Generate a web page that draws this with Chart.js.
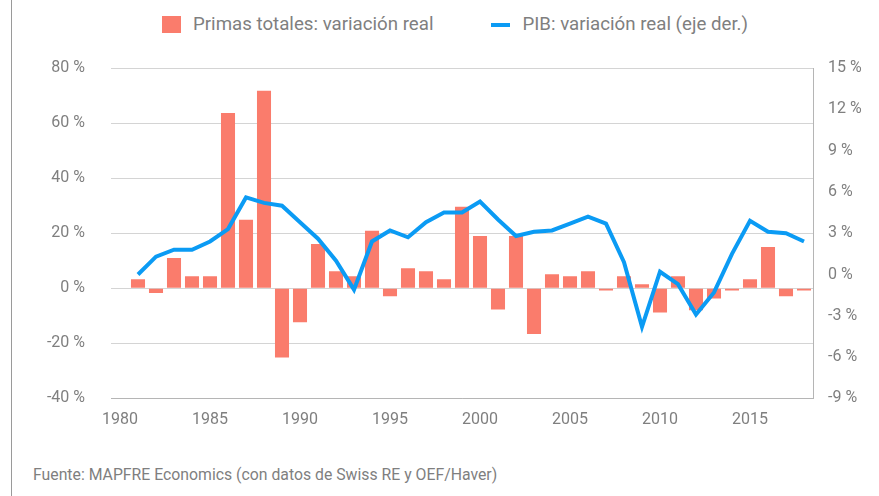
<!DOCTYPE html>
<html lang="es">
<head>
<meta charset="utf-8">
<title>Primas totales y PIB: variación real</title>
<script src="https://cdn.jsdelivr.net/npm/chart.js@4.4.1/dist/chart.umd.min.js"></script>
<style>
  html, body { margin: 0; padding: 0; background: #fff; }
  body { width: 879px; height: 496px; position: relative; overflow: hidden; font-family: Roboto, "Noto Sans", sans-serif; color: #7f7f7f; }
  .frame { position: absolute; left: 11px; top: 0; width: 1px; height: 496px; background: #9a9a9a; }
  .chart-box { position: absolute; left: 0; top: 0; width: 879px; height: 434px; }
  #legend { position: absolute; left: 162px; top: 16px; display: flex; align-items: center; font-size: 18.7px; line-height: 17px; }
  #legend .item { display: flex; align-items: center; margin-right: 58px; }
  #legend .mark { width: 19px; margin-right: 12px; }
  .source { position: absolute; left: 33px; top: 465px; font-size: 15.8px; }
</style>
</head>
<body>
<div class="frame"></div>
<div id="legend"></div>
<div class="chart-box"><canvas id="primas-pib-chart"></canvas></div>
<div class="source">Fuente: MAPFRE Economics (con datos de Swiss RE y OEF/Haver)</div>

<script>
// Years on the category axis
const years = [
    1980, 1981, 1982, 1983, 1984, 1985, 1986, 1987, 1988, 1989,
    1990, 1991, 1992, 1993, 1994, 1995, 1996, 1997, 1998, 1999,
    2000, 2001, 2002, 2003, 2004, 2005, 2006, 2007, 2008, 2009,
    2010, 2011, 2012, 2013, 2014, 2015, 2016, 2017, 2018,
];

// Total premiums, real change (%), left axis
const primasReal = [
    null, 3.3, -1.7, 11.0, 4.4, 4.4, 63.7, 24.9, 71.7, -25.1,
    -12.3, 16.1, 6.2, 4.4, 20.9, -2.9, 7.3, 6.2, 3.3, 29.6,
    19.0, -7.7, 19.0, -16.6, 5.1, 4.4, 6.2, -0.8, 4.4, 1.5,
    -8.8, 4.4, -8.0, -3.7, -0.8, 3.3, 15.0, -2.9, -0.8,
];

// GDP, real change (%), right axis
const pibReal = [
    null, 0.0, 1.3, 1.8, 1.8, 2.4, 3.3, 5.6, 5.2, 5.0,
    3.8, 2.6, 1.0, -1.1, 2.4, 3.2, 2.7, 3.8, 4.5, 4.5,
    5.3, 4.0, 2.8, 3.1, 3.2, 3.7, 4.2, 3.7, 0.9, -3.8,
    0.2, -0.7, -2.9, -1.3, 1.5, 3.9, 3.1, 3.0, 2.4,
];

// Tick ranges for both value axes
const leftTicks = { min: -40, max: 80, step: 20 };
const rightTicks = { min: -9, max: 15, step: 3 };

const textGray = '#7f7f7f';
const tickFont = { family: 'Roboto, "Noto Sans", sans-serif', size: 16 };

const ctx = document.getElementById('primas-pib-chart').getContext('2d');
const chart = new Chart(ctx, {
    type: 'bar',
    data: {
        labels: years,
        datasets: [
            {
                type: 'line',
                label: 'PIB: variación real (eje der.)',
                data: pibReal,
                yAxisID: 'y2',
                borderColor: '#0b9bf4',
                backgroundColor: '#0b9bf4',
                borderWidth: 4,
                pointRadius: 0,
                tension: 0,
                order: 0,
            },
            {
                type: 'bar',
                label: 'Primas totales: variación real',
                data: primasReal,
                yAxisID: 'y',
                backgroundColor: '#fa7c6c',
                borderWidth: 0,
                barPercentage: 0.78,
                categoryPercentage: 1.0,
                order: 1,
            },
        ],
    },
    options: {
        responsive: true,
        maintainAspectRatio: false,
        animation: false,
        layout: { padding: { top: 68, left: 0, right: 0, bottom: 0 } },
        plugins: {
            legend: { display: false },
            tooltip: { enabled: false },
        },
        scales: {
            x: {
                offset: true,
                grid: { display: false },
                border: { display: true, color: '#b5b5b5', dash: [2, 2] },
                ticks: {
                    autoSkip: false,
                    maxRotation: 0,
                    padding: 4,
                    color: textGray,
                    font: tickFont,
                    callback: (value, index) => (years[index] % 5 === 0 ? years[index] : ''),
                },
                afterFit: (scale) => { scale.height = 26; },
            },
            y: {
                position: 'left',
                min: leftTicks.min,
                max: leftTicks.max,
                grid: { color: '#d4d4d4', drawTicks: false },
                border: { display: false },
                ticks: {
                    stepSize: leftTicks.step,
                    padding: 26,
                    color: textGray,
                    font: tickFont,
                    callback: (value) => `${value} %`,
                },
                afterFit: (scale) => { scale.width = 111; },
            },
            y2: {
                position: 'right',
                min: rightTicks.min,
                max: rightTicks.max,
                grid: { drawOnChartArea: false, drawTicks: false },
                border: { display: true, color: '#b5b5b5', dash: [2, 2] },
                ticks: {
                    stepSize: rightTicks.step,
                    padding: 15,
                    color: textGray,
                    font: tickFont,
                    callback: (value) => `${value} %`,
                },
                afterFit: (scale) => { scale.width = 66; },
            },
        },
    },
});

// Legend built from the chart's own items, bars first
const legendEl = document.getElementById('legend');
const items = chart.options.plugins.legend.labels.generateLabels(chart).reverse();
items.forEach((item) => {
    const ds = chart.data.datasets[item.datasetIndex];
    const row = document.createElement('div');
    row.className = 'item';
    const mark = document.createElement('span');
    mark.className = 'mark';
    if (ds.type === 'line') {
        mark.style.height = '4px';
        mark.style.background = ds.borderColor;
    } else {
        mark.style.height = '17px';
        mark.style.background = ds.backgroundColor;
    }
    const text = document.createElement('span');
    text.textContent = item.text;
    row.appendChild(mark);
    row.appendChild(text);
    legendEl.appendChild(row);
});
</script>
</body>
</html>
